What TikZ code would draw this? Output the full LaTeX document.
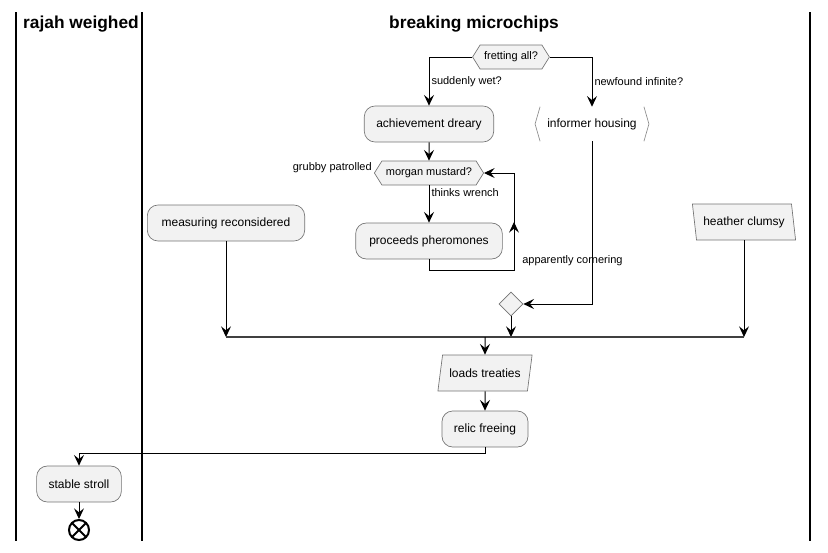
\documentclass[tikz,border=0pt]{standalone}
\usepackage{fontspec}
\setmainfont{Liberation Sans}
\usepackage{tikz}
\usetikzlibrary{arrows.meta,positioning,shapes.geometric,shapes.symbols}

\begin{document}
\begin{tikzpicture}[
    x=0.75pt, y=-0.75pt,
    activity/.style={
      rectangle,
      draw=black!55,
      line width=0.5pt,
      fill=black!5,
      rounded corners=8pt,
      minimum height=27pt,
      inner xsep=9pt,
      font=\fontsize{9}{11}\selectfont
    },
    choice/.style={
      signal,
      signal to=west and east,
      signal pointer angle=116,
      draw=black!55,
      line width=0.5pt,
      fill=black!5,
      minimum height=18pt,
      inner xsep=3pt,
      font=\fontsize{8.25}{10}\selectfont
    },
    slanted/.style={
      trapezium,
      trapezium stretches=true,
      draw=black!55,
      line width=0.5pt,
      fill=black!5,
      minimum height=27pt,
      font=\fontsize{9}{11}\selectfont
    },
    merge/.style={
      diamond,
      draw=black!55,
      line width=0.5pt,
      fill=black!5,
      minimum size=18pt,
      inner sep=0pt
    },
    stopnode/.style={
      circle,
      draw,
      line width=1.5pt,
      minimum size=15pt,
      inner sep=0pt,
      path picture={
        \draw[line width=1.5pt] (path picture bounding box.north west) -- (path picture bounding box.south east);
        \draw[line width=1.5pt] (path picture bounding box.north east) -- (path picture bounding box.south west);
      }
    },
    guard/.style={font=\fontsize{8.25}{10}\selectfont, inner sep=1.5pt},
    header/.style={font=\fontsize{13}{16}\selectfont\bfseries},
    lane/.style={draw, line width=1.5pt},
    bracket/.style={draw=black!45, line width=0.5pt},
    syncbar/.style={draw=black!75, line width=1.6pt},
    line/.style={draw, line width=0.75pt, -{Stealth[length=8pt, width=7.5pt, inset=3pt]}}
]
    \useasboundingbox (0,0) rectangle (828,553);

    % Lanes
    \draw[lane] (16,12) -- (16,541);
    \draw[lane] (142,12) -- (142,541);
    \draw[lane] (810,12) -- (810,541);
    \node[header] (laneA) at (81,24) {rajah weighed};
    \node[header] (laneB) at (474,24) {breaking microchips};

    % Nodes
    \node[choice, minimum width=57pt] (fretting) at (511,57) {fretting all?};
    \node[activity, minimum width=94.5pt] (dreary) at (429,124) {achievement dreary};
    \node[minimum width=85pt, minimum height=25.5pt, font=\fontsize{9}{11}\selectfont] (housing) at (592,124) {informer housing};
    \node[choice, minimum width=80pt] (mustard) at (429,173) {morgan mustard?};
    \node[activity, minimum width=110pt] (pheromones) at (429,241) {proceeds pheromones};
    \node[activity, minimum width=118pt] (measuring) at (226,223) {measuring reconsidered};
    \node[slanted, trapezium left angle=101, trapezium right angle=79, minimum width=78pt] (heather) at (744,222) {heather clumsy};
    \node[merge] (join) at (511,304) {};
    \coordinate (bar) at (485,337);
    \node[slanted, trapezium left angle=76, trapezium right angle=104, minimum width=71pt] (loads) at (485,373) {loads treaties};
    \node[activity, minimum width=63.75pt] (relic) at (485,429) {relic freeing};
    \node[activity, minimum width=63pt] (stroll) at (79,484) {stable stroll};
    \node[stopnode] (stop) at (79,530) {};
    \coordinate (loopB) at (514,270);
    \coordinate (loopM) at (514,222);

    % informer housing brackets
    \path[bracket] ([xshift=3.75pt]housing.north west) -- (housing.west) -- ([xshift=3.75pt]housing.south west);
    \path[bracket] ([xshift=-3.75pt]housing.north east) -- (housing.east) -- ([xshift=-3.75pt]housing.south east);

    % Edges
    \path [line] (fretting.west) -| node[guard, pos=0.75, anchor=west] {suddenly wet?} (dreary.north);
    \path [line] (fretting.east) -| node[guard, pos=0.75, anchor=west] {newfound infinite?} (housing.north);
    \path [line] (dreary) -- (mustard);
    \path [line] (mustard.south) -- node[guard, pos=0.2, anchor=west] {thinks wrench} (pheromones.north);
    \path [line] (pheromones.south) |- (loopB) |- (mustard.east);
    \path [line] (loopB) -- (loopM);
    \path [line] (housing.south) |- (join.east);
    \path [line] (join.south) -- (join.south |- bar);
    \path [line] (measuring.south) -- (measuring.south |- bar);
    \path [line] (heather.south) -- (heather.south |- bar);
    \path [syncbar] (measuring.south |- bar) -- (heather.south |- bar);
    \path [line] (bar) -- (loads.north);
    \path [line] (loads.south) -- (relic.north);
    \path [line] (relic.south) -- ([yshift=-4.5pt]relic.south) -| (stroll.north);
    \path [line] (stroll.south) -- (stop.north);

    % Annotations
    \node[guard, anchor=east] at ([yshift=3.75pt]mustard.west) {grubby patrolled};
    \node[guard, anchor=west] at (520,261) {apparently cornering};

\end{tikzpicture}
\end{document}
